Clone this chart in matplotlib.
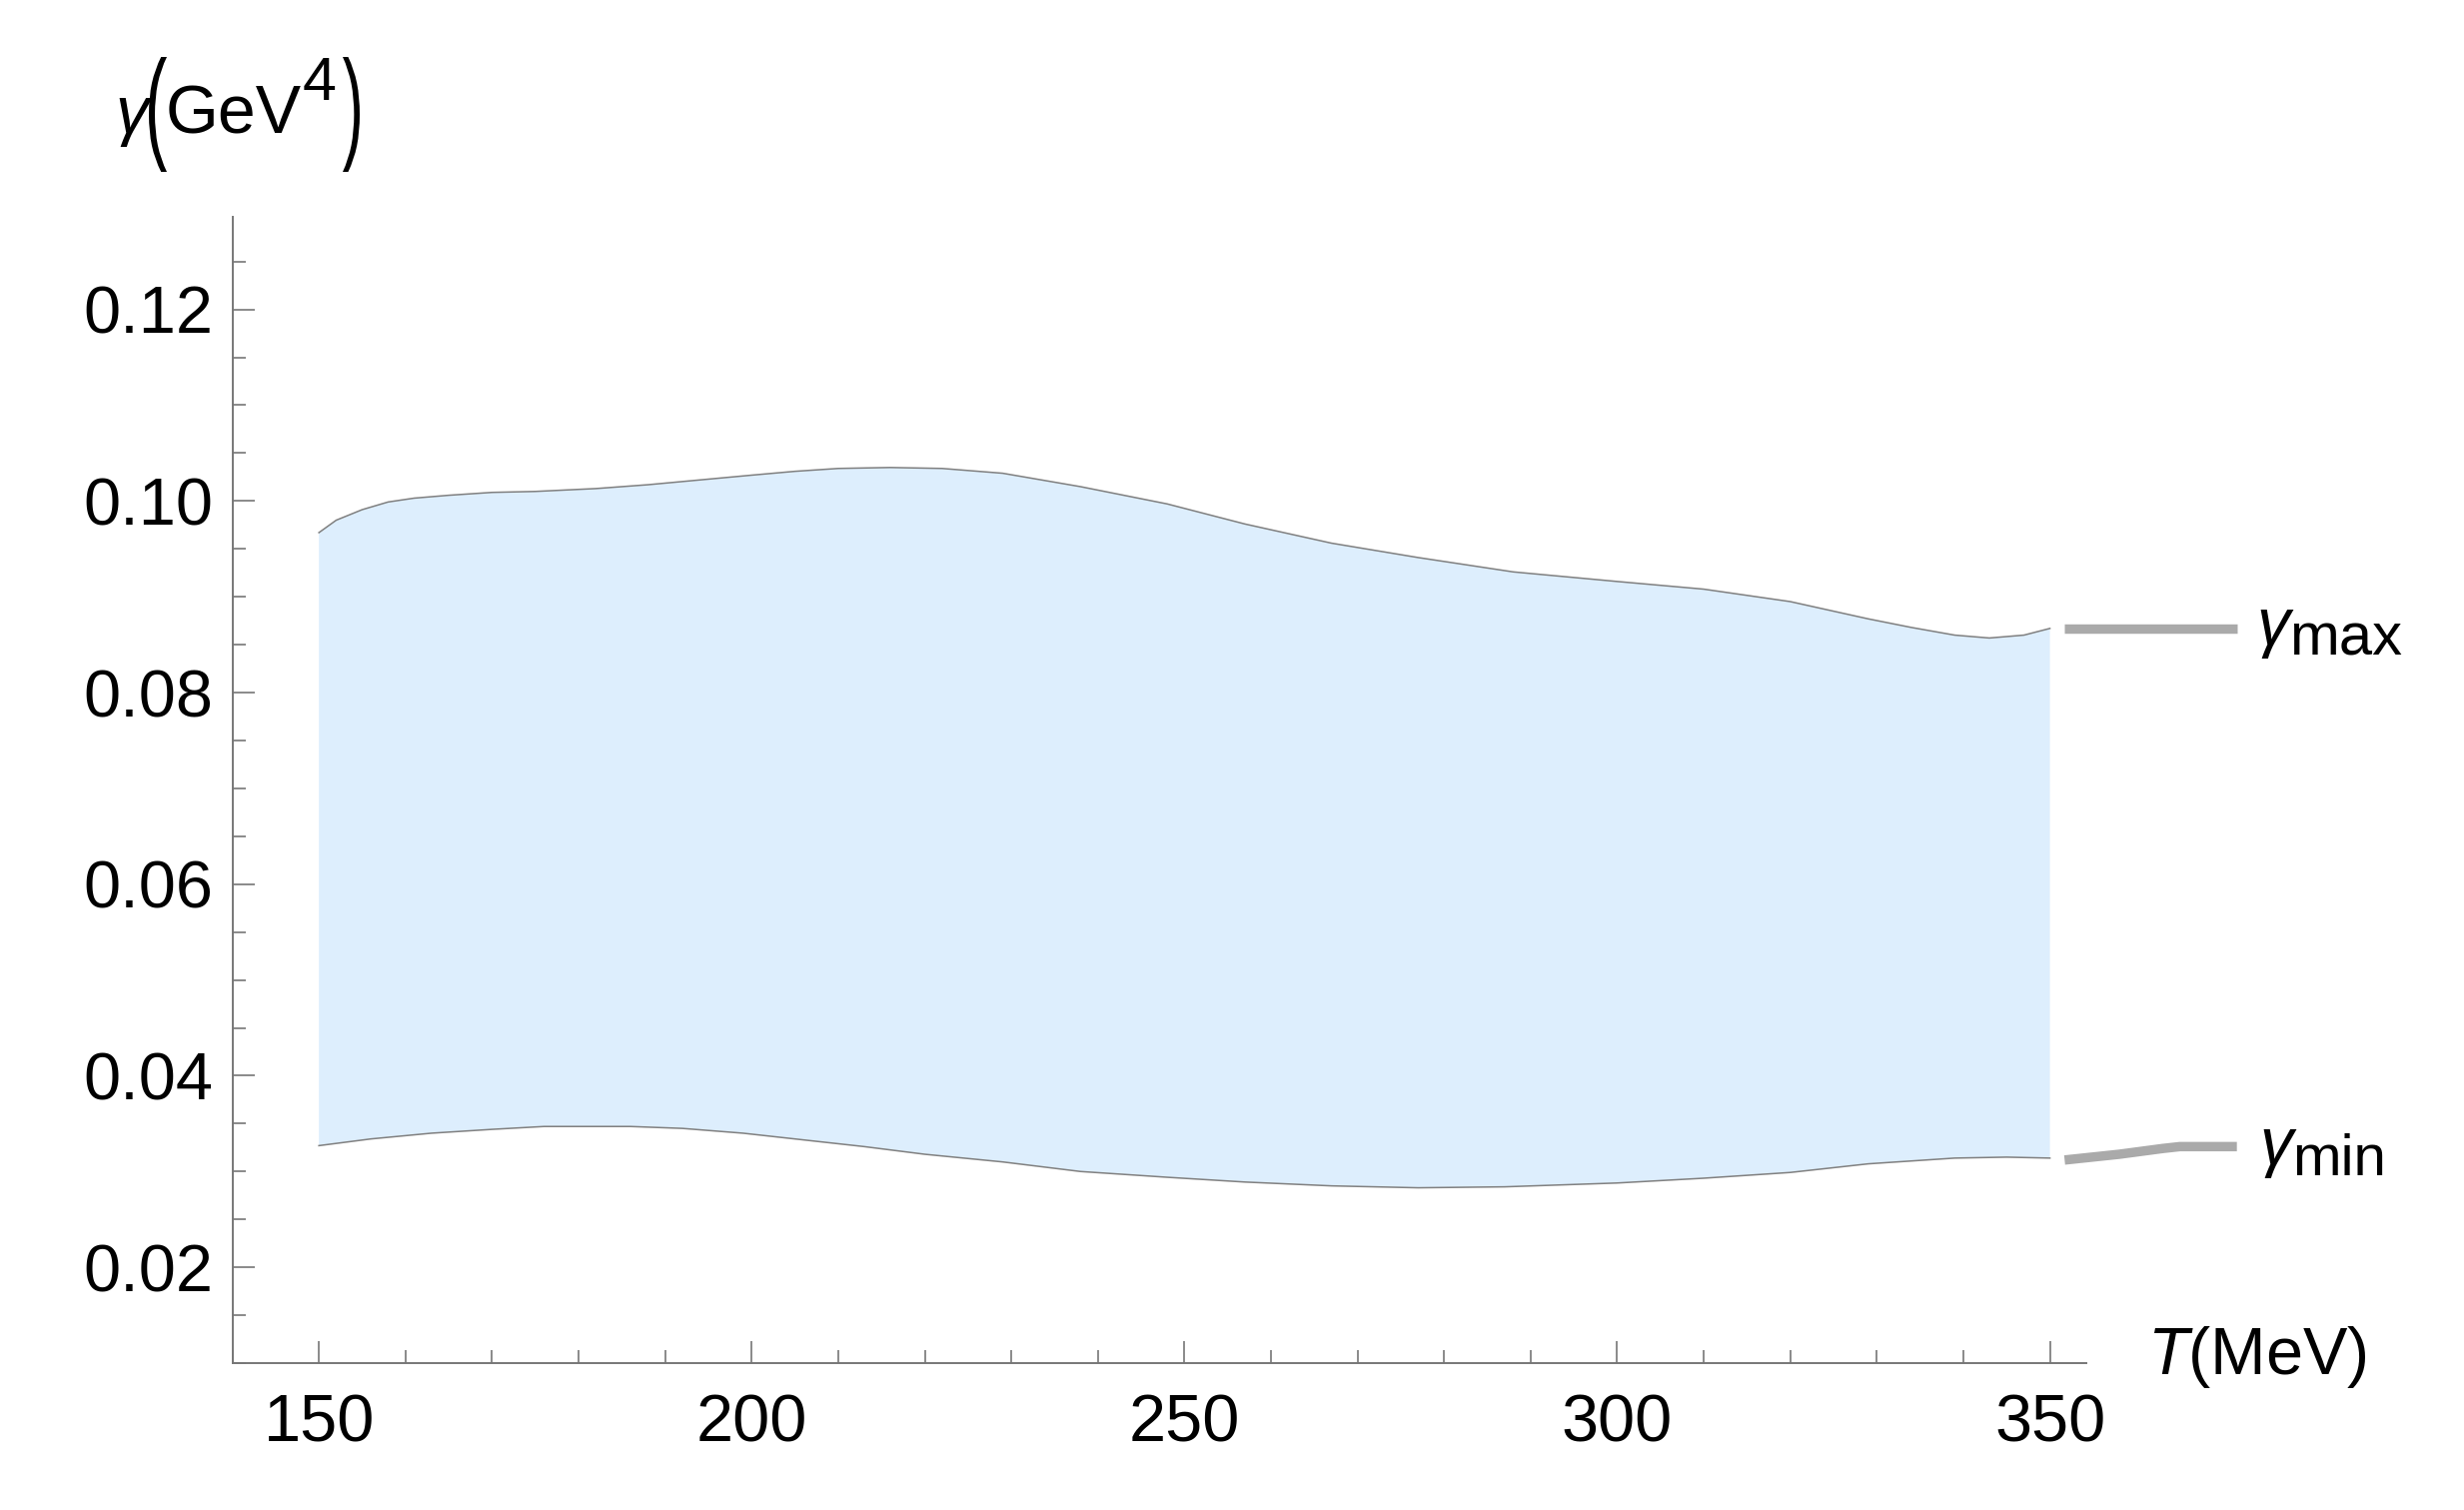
import numpy as np
import matplotlib.pyplot as plt
from matplotlib.ticker import MultipleLocator, FormatStrFormatter
from matplotlib.textpath import TextPath
from matplotlib.patches import PathPatch
from matplotlib.font_manager import FontProperties
from matplotlib.transforms import Affine2D

plt.rcParams['font.family'] = ['Liberation Sans', 'DejaVu Sans']
plt.rcParams['mathtext.fontset'] = 'custom'
plt.rcParams['mathtext.rm'] = 'Liberation Sans'
plt.rcParams['mathtext.it'] = 'Liberation Sans:italic'

# upper edge of the band (gamma_max)
T_max = [150, 152, 155, 158, 161, 165, 170, 175, 182, 188, 194, 200, 205, 210,
         216, 222, 229, 238, 248, 257, 267, 277, 288, 300, 310, 320, 329, 334,
         339, 343, 347, 350]
g_max = [0.0967, 0.0980, 0.0991, 0.0999, 0.1003, 0.1006, 0.1009, 0.1010, 0.1013,
         0.1017, 0.1022, 0.1027, 0.1031, 0.1034, 0.1035, 0.1034, 0.1029, 0.1015,
         0.0997, 0.0976, 0.0956, 0.0941, 0.0926, 0.0916, 0.0908, 0.0895, 0.0877,
         0.0868, 0.0860, 0.0857, 0.0860, 0.0867]

# lower edge of the band (gamma_min)
T_min = [150, 156, 163, 170, 176, 181, 186, 192, 199, 206, 213, 220, 229, 238,
         248, 257, 267, 277, 287, 300, 310, 320, 329, 339, 345, 350]
g_min = [0.0327, 0.0334, 0.0340, 0.0344, 0.0347, 0.0347, 0.0347, 0.0345, 0.0340,
         0.0333, 0.0326, 0.0318, 0.0310, 0.0300, 0.0294, 0.0289, 0.0285, 0.0283,
         0.0284, 0.0288, 0.0293, 0.0299, 0.0308, 0.0314, 0.0315, 0.0314]

x_ticks = [150, 200, 250, 300, 350]
y_ticks = [0.02, 0.04, 0.06, 0.08, 0.10, 0.12]

# leader lines of the curve labels
lead_max_T = [351.7, 371.6]
lead_max_g = [0.0867, 0.0867]
lead_min_T = [351.7, 358, 363, 365, 371.6]
lead_min_g = [0.0312, 0.0318, 0.0324, 0.0326, 0.0326]

W, H = 2466, 1511
fig = plt.figure(figsize=(12.33, 7.555), dpi=200)
ax = fig.add_axes([0.0943, 0.0973, 0.7524, 0.7593])

ax.fill(np.concatenate([T_max, T_min[::-1]]), np.concatenate([g_max, g_min[::-1]]),
        color='#ddeefd', lw=0)
ax.plot(T_max, g_max, color='#808080', lw=0.55)
ax.plot(T_min, g_min, color='#808080', lw=0.55)

ax.plot(lead_max_T, lead_max_g, color='#aaaaaa', lw=3.4, clip_on=False, solid_capstyle='butt')
ax.plot(lead_min_T, lead_min_g, color='#aaaaaa', lw=3.4, clip_on=False, solid_capstyle='butt')

ax.text(373.9, 0.0850, 'γ', style='italic', fontsize=24, va='baseline', clip_on=False)
ax.text(377.7, 0.0839, 'max', fontsize=21.5, va='baseline', clip_on=False)
ax.text(374.2, 0.0308, 'γ', style='italic', fontsize=24, va='baseline', clip_on=False)
ax.text(378.0, 0.0296, 'min', fontsize=21, va='baseline', clip_on=False)

ax.set_xlim(140, 354.2)
ax.set_ylim(0.01, 0.1297)
for s in ['top', 'right']:
    ax.spines[s].set_visible(False)
for s in ['left', 'bottom']:
    ax.spines[s].set_color('#777777')
    ax.spines[s].set_linewidth(0.7)

ax.set_xticks(x_ticks)
ax.set_yticks(y_ticks)
ax.xaxis.set_minor_locator(MultipleLocator(10))
ax.yaxis.set_minor_locator(MultipleLocator(0.005))
ax.yaxis.set_major_formatter(FormatStrFormatter('%.2f'))
ax.tick_params(which='both', direction='in', color='#777777', width=0.6,
               labelcolor='black', labelsize=24)
ax.tick_params(which='major', length=7.9)
ax.tick_params(which='minor', length=4.7)
ax.tick_params(axis='y', pad=7)
ax.tick_params(axis='x', pad=11)

fig.text(0.8714, 0.1013, r'$T$(MeV)', fontsize=24, va='center', ha='left')


def paren(ch, x0, x1, y0, y1):
    # tall, thin bracket like the stretched ones in the original label
    tp = TextPath((0, 0), ch, size=10, prop=FontProperties(family='Liberation Sans'))
    bb = tp.get_extents()
    tr = (Affine2D().translate(-bb.x0, -bb.y0)
          .scale((x1 - x0) / bb.width / W, (y1 - y0) / bb.height / H)
          .translate(x0 / W, 1 - y1 / H) + fig.transFigure)
    fig.add_artist(PathPatch(tp, transform=tr, facecolor='black', lw=0))


# y axis label: gamma (GeV^4)
fig.text(115 / W, 1 - 133 / H, 'γ', style='italic', fontsize=24, va='baseline')
paren('(', 149, 167, 57, 172)
fig.text(166 / W, 1 - 134 / H, 'GeV', fontsize=24.5, va='baseline')
fig.text(303 / W, 1 - 100 / H, '4', fontsize=22, va='baseline')
paren(')', 343, 360, 57, 172)

plt.savefig('out.png', dpi=200)
